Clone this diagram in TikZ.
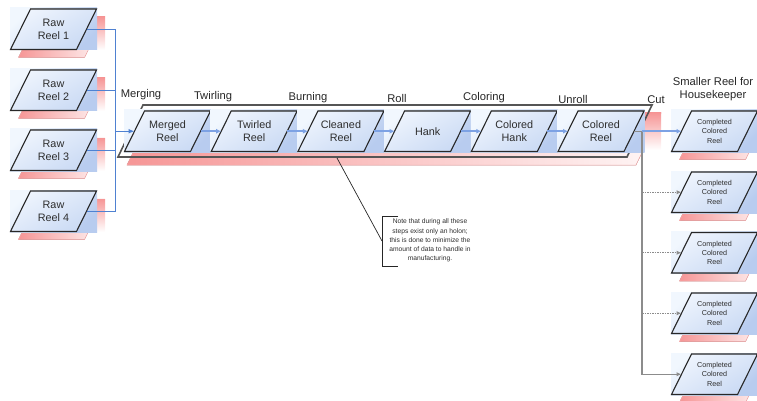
\documentclass[tikz,border=0pt]{standalone}
\usepackage{fontspec}
\setmainfont{Liberation Sans}
\usetikzlibrary{arrows.meta}
\definecolor{blueL}{RGB}{241,247,254}
\definecolor{blueD}{RGB}{184,204,239}
\definecolor{parL}{RGB}{238,244,253}
\definecolor{parD}{RGB}{202,218,244}
\definecolor{pinkS}{RGB}{246,150,150}
\definecolor{lineBlue}{RGB}{79,129,209}
\definecolor{arrowBlue}{RGB}{125,162,228}
\definecolor{grayC}{RGB}{140,140,140}
\definecolor{outlineC}{RGB}{40,40,40}
\definecolor{frameC}{RGB}{85,85,85}
\definecolor{txtC}{RGB}{45,45,45}

\newcommand\reelshape[5]{%
  \fill[rectfill] (#2,{#3-1}) rectangle ({#2+87},{#3+41});
  \filldraw[parfill] ({#2+0.5},{#3+40.5}) -- ({#2+20.5},#3) -- ({#2+86.5},#3) -- ({#2+66.5},{#3+40.5}) -- cycle;
  \node[#5] (#1) at ({#2+43.5},{#3+20.25}) {#4};
  \coordinate (#1-w) at ({#2+10.5},{#3+20.25});
  \coordinate (#1-e) at ({#2+76.5},{#3+20.25});
}
\newcommand\reelshadow[2]{%
  \filldraw[shadowband] ({#1+8.5},{#2+48.5}) -- ({#1+28.5},{#2+8}) -- ({#1+94.5},{#2+8}) -- ({#1+74.5},{#2+48.5}) -- cycle;
  \fill[shadowstrip] ({#1+87},{#2+8}) rectangle ({#1+95},{#2+41});
}

\begin{document}
\begin{tikzpicture}[x=1pt,y=-1pt,
  rectfill/.style={top color=blueL, bottom color=blueD, shading angle=45},
  parfill/.style={draw=outlineC, line width=1.1pt, top color=parL, bottom color=parD, shading angle=30},
  shadowband/.style={draw=pinkS!80, line width=0.5pt, left color=pinkS, right color=pinkS!8},
  shadowstrip/.style={top color=pinkS, bottom color=white},
  frame/.style={draw=frameC, line width=1.6pt},
  bigtxt/.style={font=\fontsize{10.8}{12.8}\selectfont, text=txtC, align=center},
  smalltxt/.style={font=\fontsize{7.2}{9.3}\selectfont, text=txtC, align=center},
  notetxt/.style={font=\fontsize{6.7}{9.2}\selectfont, text=txtC, align=center},
  steplbl/.style={font=\fontsize{11.2}{13.5}\selectfont, text=black!85, align=center},
  busline/.style={draw=lineBlue, line width=0.9pt},
  mainarrow/.style={draw=lineBlue, line width=1.3pt, -{Latex[length=6pt,width=5pt]}},
  steparrow/.style={draw=arrowBlue, line width=1.5pt, -{Latex[length=5pt,width=5pt]}},
  graylink/.style={draw=grayC, line width=1.1pt},
  grayarrow/.style={graylink, -{Latex[length=5pt,width=4.5pt]}},
  grayfine/.style={grayarrow, line width=1.2pt, dash pattern=on 1.6pt off 0.9pt},
  notebr/.style={draw=black!85, line width=0.7pt}
]
\useasboundingbox (0,0) rectangle (757,401);

% raw reels
\reelshadow{10}{9}
\reelshape{raw1}{10}{9}{Raw\\Reel 1}{bigtxt}
\reelshadow{10}{70}
\reelshape{raw2}{10}{70}{Raw\\Reel 2}{bigtxt}
\reelshadow{10}{130}
\reelshape{raw3}{10}{130}{Raw\\Reel 3}{bigtxt}
\reelshadow{10}{191}
\reelshape{raw4}{10}{191}{Raw\\Reel 4}{bigtxt}

% group
\filldraw[shadowband] (152,113) -- (661,113) -- (636,165) -- (127,165) -- cycle;
\fill[shadowstrip] (645,113) rectangle (661,150);
\draw[frame] (143,105) -- (652,105) -- (627,157) -- (118,157) -- cycle;
\coordinate (grpbottom) at (337,158);

% process
\reelshape{merged}{124}{111}{Merged\\Reel}{bigtxt}
\reelshape{twirled}{210.7}{111}{Twirled\\Reel}{bigtxt}
\reelshape{cleaned}{297.4}{111}{Cleaned\\Reel}{bigtxt}
\reelshape{hank}{384.1}{111}{Hank}{bigtxt}
\reelshape{colhank}{470.8}{111}{Colored\\Hank}{bigtxt}
\reelshape{colreel}{557.5}{111}{Colored\\Reel}{bigtxt}

% outputs
\reelshadow{671}{111}
\reelshape{out1}{671}{111}{Completed\\Colored\\Reel}{smalltxt}
\reelshadow{671}{172}
\reelshape{out2}{671}{172}{Completed\\Colored\\Reel}{smalltxt}
\reelshadow{671}{232.5}
\reelshape{out3}{671}{232.5}{Completed\\Colored\\Reel}{smalltxt}
\reelshadow{671}{293}
\reelshape{out4}{671}{293}{Completed\\Colored\\Reel}{smalltxt}
\reelshadow{671}{354}
\reelshape{out5}{671}{354}{Completed\\Colored\\Reel}{smalltxt}

% connectors: merge
\coordinate (busin) at (115,131.25);
\draw[busline] (raw1-e) -| (busin);
\draw[busline] (raw2-e) -| (busin);
\draw[busline] (raw3-e) -| (busin);
\draw[busline] (raw4-e) -| (busin);
\draw[mainarrow] (busin) -- (merged-w);

% process steps
\draw[steparrow] (merged-e) -- (twirled-w);
\draw[steparrow] (twirled-e) -- (cleaned-w);
\draw[steparrow] (cleaned-e) -- (hank-w);
\draw[steparrow] (hank-e) -- (colhank-w);
\draw[steparrow] (colhank-e) -- (colreel-w);

% cut
\coordinate (cutj) at (642,131.25);
\draw[grayarrow] (colreel-e) -- (cutj) |- (out5-w);
\draw[grayfine] (cutj |- out2-w) -- (out2-w);
\draw[grayfine] (cutj |- out3-w) -- (out3-w);
\draw[grayfine] (cutj |- out4-w) -- (out4-w);
\draw[steparrow] (cutj) -- (out1-w);

% step labels
\node[steplbl] (lmerge) at (141,95) {Merging};
\node[steplbl] (ltwirl) at (213,97) {Twirling};
\node[steplbl] (lburn) at (308,98) {Burning};
\node[steplbl] (lroll) at (397,98) {Roll};
\node[steplbl] (lcolor) at (484,98) {Coloring};
\node[steplbl] (lunroll) at (573,99.5) {Unroll};
\node[steplbl] (lcut) at (656,100) {Cut};
\node[steplbl] (lsmall) at (713,89) {Smaller Reel for\\Housekeeper};

% note
\node[notetxt] (note) at (430,240.5) {Note that during all these\\steps exist only an holon;\\this is done to minimize the\\amount of data to handle in\\manufacturing.};
\coordinate (brk) at (382,241);
\draw[notebr] (grpbottom) -- (brk);
\draw[notebr] (398,216) -- (382,216) -- (382,266) -- (398,266);
\end{tikzpicture}
\end{document}
